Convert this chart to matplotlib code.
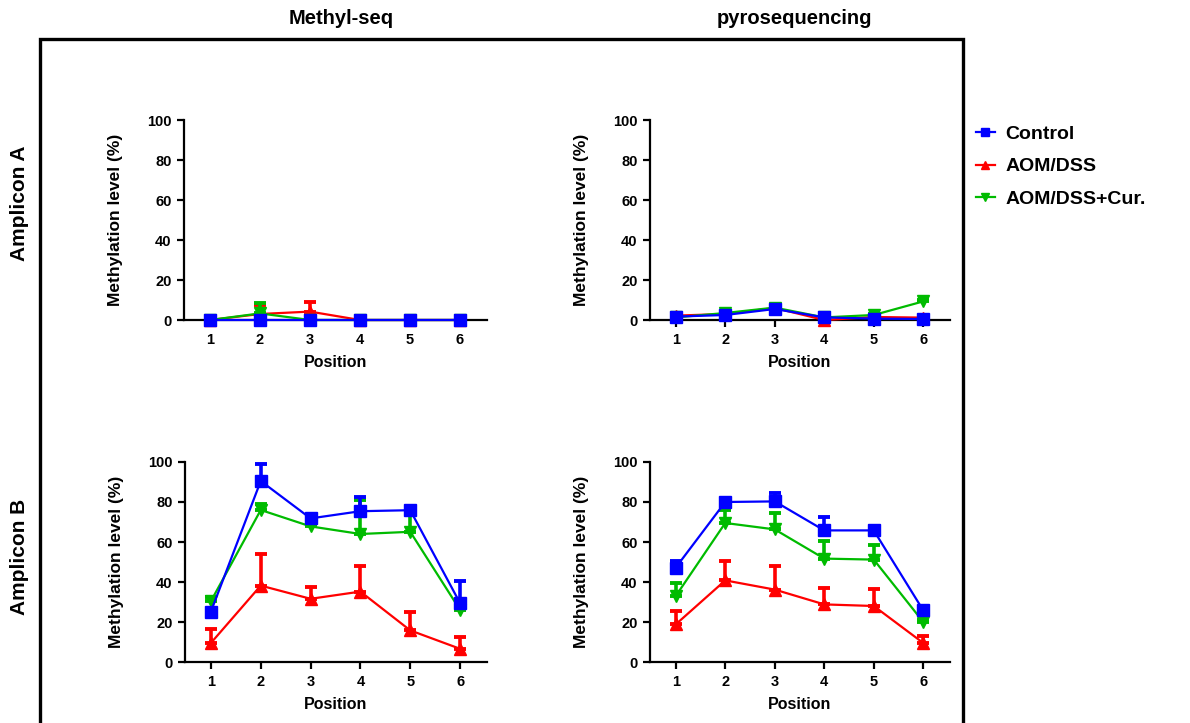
import numpy as np
import matplotlib
matplotlib.use("Agg")
import matplotlib.pyplot as plt
from matplotlib.patches import Rectangle
from matplotlib.lines import Line2D

plt.rcParams['font.family'] = ['Liberation Sans', 'DejaVu Sans']
plt.rcParams['font.weight'] = 'bold'

positions = [1, 2, 3, 4, 5, 6]
groups = ["Control", "AOM/DSS", "AOM/DSS+Cur."]
colors = {"Control": "#0000FF", "AOM/DSS": "#FF0000", "AOM/DSS+Cur.": "#00BB00"}
markers = {"Control": "s", "AOM/DSS": "^", "AOM/DSS+Cur.": "v"}

# Amplicon A, Methyl-seq
a_mseq_mean = {
    "Control":      [0, 0, 0, 0, 0, 0],
    "AOM/DSS":      [0, 3, 4.2, 0, 0, 0],
    "AOM/DSS+Cur.": [0, 3.3, 0, 0, 0, 0],
}
a_mseq_err = {
    "Control":      [0, 0, 0, 0, 0, 0],
    "AOM/DSS":      [0, 4.5, 5, 0, 0, 0],
    "AOM/DSS+Cur.": [0, 5.4, 0, 0, 0, 0],
}
# Amplicon A, pyrosequencing
a_pyro_mean = {
    "Control":      [1.7, 2.5, 5.5, 1.3, 0.7, 0.5],
    "AOM/DSS":      [2.2, 3.0, 6.0, 0.0, 1.5, 1.2],
    "AOM/DSS+Cur.": [1.3, 3.5, 6.2, 1.3, 2.5, 9.3],
}
a_pyro_err = {
    "Control":      [0.5, 0.5, 0.5, 0.3, 0.3, 0.3],
    "AOM/DSS":      [0.5, 0.5, 0.5, 0.3, 0.5, 0.3],
    "AOM/DSS+Cur.": [0.3, 0.5, 0.5, 0.3, 0.5, 0.5],
}
# Amplicon B, Methyl-seq
b_mseq_mean = {
    "Control":      [25.2, 90.5, 71.8, 75.4, 75.9, 29.4],
    "AOM/DSS":      [9.5, 38.2, 31.6, 35.2, 15.8, 6.6],
    "AOM/DSS+Cur.": [30.4, 76.0, 67.8, 64.0, 65.1, 26.0],
}
b_mseq_err = {
    "Control":      [0.5, 8.3, 1.5, 7.0, 1.0, 11.0],
    "AOM/DSS":      [7.0, 16.0, 6.0, 13.0, 9.0, 6.0],
    "AOM/DSS+Cur.": [2.0, 3.0, 4.0, 17.0, 10.0, 1.0],
}
# Amplicon B, pyrosequencing
b_pyro_mean = {
    "Control":      [47.2, 80.0, 80.3, 65.8, 65.8, 25.8],
    "AOM/DSS":      [18.8, 40.8, 36.2, 28.8, 28.0, 9.5],
    "AOM/DSS+Cur.": [33.0, 69.5, 66.3, 51.7, 51.2, 20.0],
}
b_pyro_err = {
    "Control":      [3.5, 1.5, 4.0, 6.5, 1.0, 0.5],
    "AOM/DSS":      [6.5, 9.5, 11.7, 8.3, 8.3, 3.5],
    "AOM/DSS+Cur.": [6.5, 6.5, 8.4, 9.0, 7.5, 1.0],
}

W, H = 1190, 723
fig = plt.figure(figsize=(W / 100, H / 100), dpi=100)


def px_axes(x0, x1, y_top, y_bot):
    return fig.add_axes([x0 / W, 1 - y_bot / H, (x1 - x0) / W, (y_bot - y_top) / H])


def draw_panel(ax, means, errs):
    order = ["AOM/DSS", "AOM/DSS+Cur.", "Control"]
    for z, g in enumerate(order):
        m = np.array(means[g])
        e = np.array(errs[g])
        ax.errorbar(positions, m, yerr=[np.zeros_like(e), e], color=colors[g],
                    marker=markers[g], markersize=8.5, linewidth=1.6,
                    elinewidth=2.6, capsize=4.5, capthick=2.8,
                    zorder=3 + z, clip_on=False)
    ax.set_xlim(0.48, 6.54)
    ax.set_ylim(0, 100)
    ax.set_yticks([0, 20, 40, 60, 80, 100])
    ax.set_xticks(positions)
    for s in ["top", "right"]:
        ax.spines[s].set_visible(False)
    for s in ["left", "bottom"]:
        ax.spines[s].set_linewidth(1.6)
    ax.tick_params(direction="out", length=5, width=1.6, labelsize=10.5, pad=4)
    for lab in ax.get_xticklabels() + ax.get_yticklabels():
        lab.set_fontweight("bold")
    ax.set_ylabel("Methylation level (%)", fontsize=12.5, fontweight="bold", labelpad=17)
    ax.set_xlabel("Position", fontsize=11.5, fontweight="bold", labelpad=6)


ax1 = px_axes(184, 487, 120, 320)
ax2 = px_axes(650, 950, 120, 320)
ax3 = px_axes(185, 487, 462, 662)
ax4 = px_axes(650, 950, 462, 662)
draw_panel(ax1, a_mseq_mean, a_mseq_err)
draw_panel(ax2, a_pyro_mean, a_pyro_err)
draw_panel(ax3, b_mseq_mean, b_mseq_err)
draw_panel(ax4, b_pyro_mean, b_pyro_err)

# outer frame (bottom edge falls outside the image)
fig.patches.append(Rectangle((40 / W, -0.1), (963 - 40) / W, 1.1 - 39 / H,
                             transform=fig.transFigure, fill=False,
                             linewidth=2.4, edgecolor="black"))

fig.text(341 / W, 1 - 19 / H, "Methyl-seq", ha="center", va="center",
         fontsize=14.5, fontweight="bold")
fig.text(794 / W, 1 - 19 / H, "pyrosequencing", ha="center", va="center",
         fontsize=14.5, fontweight="bold")

fig.text(20 / W, 1 - 203 / H, "Amplicon A", rotation=90, ha="center", va="center",
         fontsize=15, fontweight="bold")
fig.text(20 / W, 1 - 557 / H, "Amplicon B", rotation=90, ha="center", va="center",
         fontsize=15, fontweight="bold")

handles = [Line2D([], [], color=colors[g], marker=markers[g], markersize=6,
                  linewidth=1.6) for g in groups]
fig.legend(handles, groups, loc="upper left",
           bbox_to_anchor=(962 / W, 1 - 112 / H), frameon=False,
           borderpad=0.2, prop={"size": 14, "weight": "bold"}, handlelength=1.0,
           handletextpad=0.55, labelspacing=0.75)

fig.savefig("out.png", dpi=100)
